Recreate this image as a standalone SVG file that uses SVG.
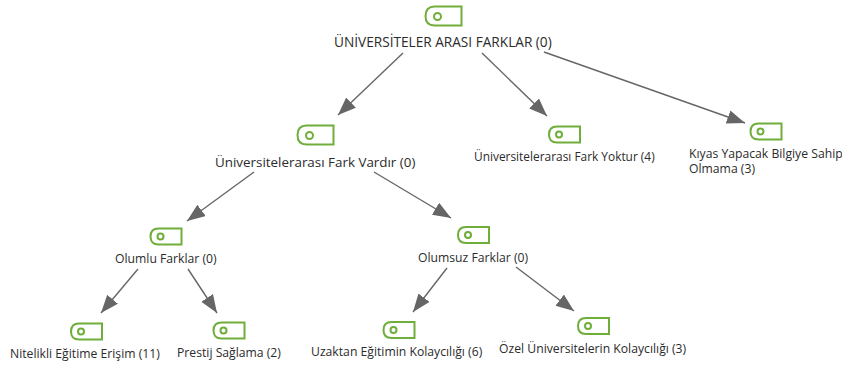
<svg xmlns="http://www.w3.org/2000/svg" width="842" height="365" viewBox="0 0 842 365">
<style>
text{font-family:"Open Sans","Noto Sans","Liberation Sans",sans-serif;font-size:12.200px;fill:#2b2b2b}
text.r{font-size:13.650px}
text.l{font-size:13.400px}
text.m{font-size:11.900px}
.i{fill:none;stroke:#6fae3a;stroke-width:2}
.c{stroke:#666;stroke-width:1.400;fill:none;marker-end:url(#a)}
</style>
<defs>
<marker id="a" markerUnits="userSpaceOnUse" markerWidth="20" markerHeight="16" refX="18" refY="7" orient="auto"><path d="M0 0L18 7L0 14Z" fill="#666"/></marker>
<g id="big"><path class="i" d="M9 0H36V19H9Q0 19 0 9.500Q0 0 9 0Z"/><circle class="i" cx="12" cy="10" r="3.500"/></g>
<g id="sm"><path class="i" d="M8 0H31V16H8Q0 16 0 8Q0 0 8 0Z"/><circle class="i" cx="10" cy="8" r="3"/></g>
</defs>
<rect width="842" height="365" fill="#fff"/>
<g id="connectors">
<path class="c" d="M403 53L338 115"/>
<path class="c" d="M482 53L547 116"/>
<path class="c" d="M544 52L745 123"/>
<path class="c" d="M254 172L187 221"/>
<path class="c" d="M374 172L451 218"/>
<path class="c" d="M138 269L101 313"/>
<path class="c" d="M188 269L217 313"/>
<path class="c" d="M447 268L413 312"/>
<path class="c" d="M516 267L574 311"/>
</g>
<g id="n1"><use href="#big" x="425.500" y="6.500"/><text class="r" x="334" y="47">ÜNİVERSİTELER ARASI FARKLAR (0)</text></g>
<g id="n2"><use href="#big" x="297.500" y="125.500"/><text class="l" x="215" y="167">Üniversitelerarası Fark Vardır (0)</text></g>
<g id="n3"><use href="#sm" x="549" y="126.500"/><text class="m" x="474" y="160.500">Üniversitelerarası Fark Yoktur (4)</text></g>
<g id="n4"><use href="#sm" x="750.500" y="123.500"/><text x="689" y="158">Kıyas Yapacak Bilgiye Sahip<tspan x="689" dy="14.500">Olmama (3)</tspan></text></g>
<g id="n5"><use href="#sm" x="150.500" y="228.500"/><text x="115" y="263">Olumlu Farklar (0)</text></g>
<g id="n6"><use href="#sm" x="458" y="227"/><text x="418" y="262">Olumsuz Farklar (0)</text></g>
<g id="n7"><use href="#sm" x="71" y="323.500"/><text x="10" y="358">Nitelikli Eğitime Erişim (11)</text></g>
<g id="n8"><use href="#sm" x="213.500" y="322.500"/><text x="177" y="357">Prestij Sağlama (2)</text></g>
<g id="n9"><use href="#sm" x="383.500" y="322"/><text x="311" y="356">Uzaktan Eğitimin Kolaycılığı (6)</text></g>
<g id="n10"><use href="#sm" x="578" y="318"/><text x="499" y="353">Özel Üniversitelerin Kolaycılığı (3)</text></g>
</svg>
